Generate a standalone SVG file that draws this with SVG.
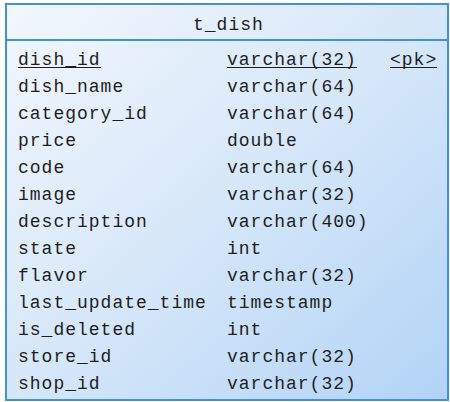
<svg xmlns="http://www.w3.org/2000/svg" width="450" height="402" viewBox="0 0 450 402">
  <defs>
    <linearGradient id="tableFill" x1="0" y1="0" x2="1" y2="1">
      <stop offset="0" stop-color="#f3f7fd"/>
      <stop offset="0.5" stop-color="#d6e7f9"/>
      <stop offset="1" stop-color="#b2d3f6"/>
    </linearGradient>
    <style>
      .frame { fill: url(#tableFill); stroke: #3f93d6; stroke-width: 2; }
      .sep { stroke: #3f93d6; stroke-width: 2; }
      .txt { font-family: "Liberation Mono", "DejaVu Sans Mono", monospace; font-size: 18px; letter-spacing: 1px; fill: #1e1e1e; }
      .key { stroke: #1e1e1e; stroke-width: 1; }
    </style>
  </defs>

  <!-- table entity: t_dish -->
  <g id="t_dish">
    <rect class="frame" x="6" y="4" width="442" height="396"/>
    <line class="sep" x1="6" y1="40" x2="448" y2="40"/>
    <text class="txt" x="193" y="30">t_dish</text>

    <!-- column names -->
    <g class="txt">
      <text x="18" y="65">dish_id</text>
      <text x="18" y="92">dish_name</text>
      <text x="18" y="119">category_id</text>
      <text x="18" y="146">price</text>
      <text x="18" y="173">code</text>
      <text x="18" y="200">image</text>
      <text x="18" y="227">description</text>
      <text x="18" y="254">state</text>
      <text x="18" y="281">flavor</text>
      <text x="18" y="308">last_update_time</text>
      <text x="18" y="335">is_deleted</text>
      <text x="18" y="362">store_id</text>
      <text x="18" y="389">shop_id</text>
    </g>

    <!-- column types -->
    <g class="txt">
      <text x="227" y="65">varchar(32)</text>
      <text x="227" y="92">varchar(64)</text>
      <text x="227" y="119">varchar(64)</text>
      <text x="227" y="146">double</text>
      <text x="227" y="173">varchar(64)</text>
      <text x="227" y="200">varchar(32)</text>
      <text x="227" y="227">varchar(400)</text>
      <text x="227" y="254">int</text>
      <text x="227" y="281">varchar(32)</text>
      <text x="227" y="308">timestamp</text>
      <text x="227" y="335">int</text>
      <text x="227" y="362">varchar(32)</text>
      <text x="227" y="389">varchar(32)</text>
    </g>

    <!-- primary key marker -->
    <text class="txt" x="390" y="65">&lt;pk&gt;</text>

    <!-- primary key underlines -->
    <line class="key" x1="18" y1="67.5" x2="101" y2="67.5"/>
    <line class="key" x1="227" y1="67.5" x2="357" y2="67.5"/>
    <line class="key" x1="390" y1="67.5" x2="437" y2="67.5"/>
  </g>
</svg>
